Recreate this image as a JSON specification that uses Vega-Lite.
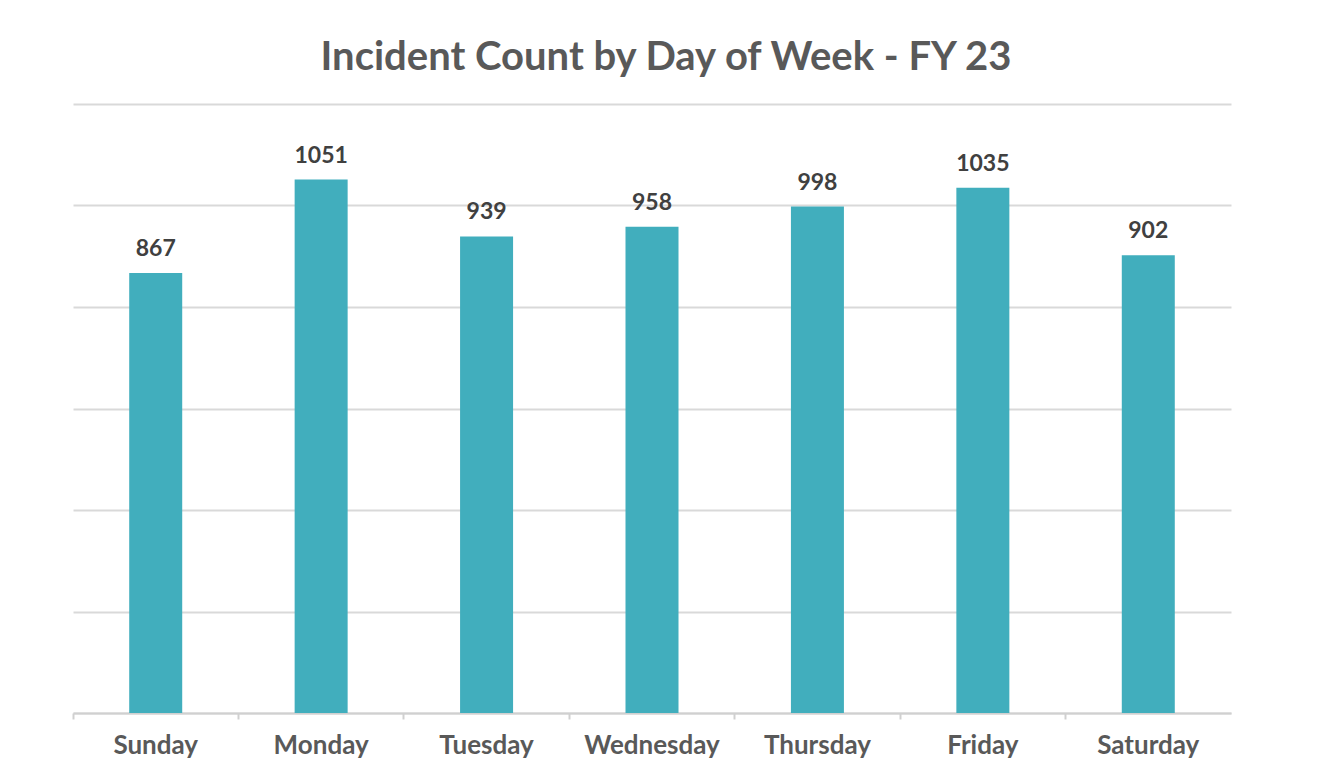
{
  "$schema": "https://vega.github.io/schema/vega-lite/v6.json",
  "autosize": "none",
  "width": 1158,
  "height": 609,
  "padding": {"left": 73, "top": 104, "right": 97, "bottom": 69},
  "background": "white",
  "config": {
    "view": {"stroke": null},
    "font": "Lato"
  },
  "title": {
    "text": "Incident Count by Day of Week - FY 23",
    "fontSize": 40,
    "fontWeight": "bold",
    "color": "#595959",
    "font": "Lato",
    "anchor": "middle",
    "dx": 14,
    "offset": 26
  },
  "data": {
    "values": [
      {"day": "Sunday", "count": 867},
      {"day": "Monday", "count": 1051},
      {"day": "Tuesday", "count": 939},
      {"day": "Wednesday", "count": 958},
      {"day": "Thursday", "count": 998},
      {"day": "Friday", "count": 1035},
      {"day": "Saturday", "count": 902}
    ]
  },
  "encoding": {
    "x": {
      "field": "day",
      "type": "nominal",
      "sort": null,
      "scale": {"paddingInner": 0, "paddingOuter": 0},
      "axis": {
        "title": null,
        "labelAngle": 0,
        "labelFontSize": 26,
        "labelFontWeight": "bold",
        "labelColor": "#595959",
        "labelPadding": 13,
        "domainColor": "#d0d0d0",
        "domainWidth": 2,
        "tickColor": "#d0d0d0",
        "tickWidth": 2,
        "tickSize": 6,
        "bandPosition": 0
      }
    },
    "y": {
      "field": "count",
      "type": "quantitative",
      "scale": {"domain": [0, 1200]},
      "axis": {
        "title": null,
        "labels": false,
        "ticks": false,
        "domain": false,
        "values": [0, 200, 400, 600, 800, 1000, 1200],
        "gridColor": "#d9d9d9",
        "gridWidth": 2
      }
    }
  },
  "layer": [
    {
      "mark": {"type": "bar", "width": 53, "color": "#41AEBD"}
    },
    {
      "mark": {
        "type": "text",
        "baseline": "alphabetic",
        "dy": -17,
        "fontSize": 23,
        "fontWeight": "bold",
        "color": "#404040"
      },
      "encoding": {"text": {"field": "count", "type": "quantitative"}}
    }
  ]
}
